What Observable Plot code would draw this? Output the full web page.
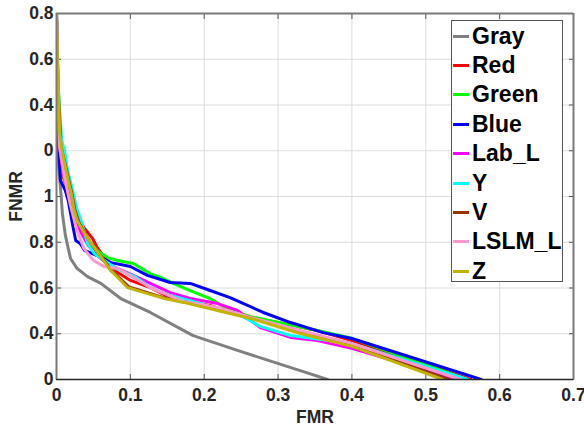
<!DOCTYPE html>
<html>
<head>
<meta charset="utf-8">
<script src="https://cdn.jsdelivr.net/npm/d3@7"></script>
<script src="https://cdn.jsdelivr.net/npm/@observablehq/plot@0.6"></script>
<style>
  html, body { margin: 0; padding: 0; background: #fff; }
  #wrap { position: relative; width: 584px; height: 428px; font-family: "Liberation Sans", Arial, sans-serif; }
  #chart svg text { font-size: 17.5px !important; font-weight: bold !important; font-family: "Liberation Sans", Arial, sans-serif !important; }
  #legend { position: absolute; left: 451px; top: 20px; width: 112px; height: 262px; border: 1px solid #555; background: #fff; box-sizing: border-box; }
  .item { position: absolute; left: 0; height: 29px; display: flex; align-items: center; }
  .sw { width: 16px; height: 3px; margin-left: 1px; margin-right: 3px; }
  .lb { font-weight: bold; font-size: 23px; color: #000; line-height: 1; }
</style>
</head>
<body>
<div id="wrap"><div id="chart"></div><div id="legend"></div></div>
<script>
const seriesNames = ["Gray","Red","Green","Blue","Lab_L","Y","V","LSLM_L","Z"];
const seriesColors = ["#808080","#ff0000","#00ff00","#0000ff","#ff00ff","#00ffff","#993300","#ff99cc","#c2b500"];

const grayFMR  = [0,0.0007,0.0014,0.0054,0.008,0.012,0.019,0.028,0.042,0.06,0.087,0.127,0.185,0.245,0.33,0.367];
const grayFNMR = [1.6,1.22,0.988,0.839,0.726,0.63,0.529,0.485,0.45,0.42,0.354,0.293,0.192,0.127,0.039,0];

const redFMR  = [0,0.002,0.004,0.008,0.018,0.024,0.031,0.038,0.049,0.055,0.065,0.083,0.1,0.127,0.154,0.181,0.208,0.235,0.263,0.307,0.353,0.4,0.561];
const redFNMR = [1.6,1.2,1.0,0.892,0.813,0.739,0.695,0.66,0.616,0.577,0.533,0.468,0.433,0.402,0.358,0.337,0.324,0.293,0.271,0.245,0.214,0.17,0];

const greenFMR  = [0,0.001,0.003,0.008,0.015,0.019,0.024,0.028,0.034,0.042,0.055,0.069,0.083,0.104,0.127,0.141,0.158,0.181,0.208,0.235,0.263,0.307,0.353,0.4,0.556];
const greenFNMR = [1.6,1.25,1.05,0.914,0.813,0.783,0.708,0.686,0.651,0.616,0.564,0.533,0.52,0.507,0.463,0.446,0.42,0.389,0.354,0.302,0.275,0.245,0.214,0.18,0];

const blueFMR  = [0,0.0014,0.003,0.0054,0.012,0.016,0.022,0.026,0.032,0.038,0.055,0.074,0.1,0.123,0.154,0.181,0.208,0.235,0.28,0.317,0.361,0.4,0.575];
const blueFNMR = [1.6,1.22,1.0,0.87,0.826,0.78,0.673,0.608,0.595,0.564,0.542,0.511,0.494,0.455,0.424,0.42,0.389,0.358,0.293,0.249,0.205,0.179,0];

const labFMR  = [0,0.002,0.004,0.009,0.022,0.032,0.043,0.055,0.069,0.083,0.104,0.127,0.154,0.181,0.218,0.245,0.276,0.317,0.353,0.4,0.542];
const labFNMR = [1.6,1.2,1.02,0.9,0.74,0.65,0.586,0.542,0.507,0.485,0.455,0.42,0.38,0.354,0.332,0.302,0.227,0.184,0.17,0.136,0];

const yFMR  = [0,0.002,0.007,0.011,0.015,0.022,0.027,0.034,0.042,0.051,0.065,0.083,0.106,0.127,0.154,0.181,0.218,0.245,0.276,0.317,0.4,0.557];
const yFNMR = [1.6,1.3,1.045,1.0,0.914,0.826,0.752,0.686,0.595,0.551,0.52,0.481,0.45,0.402,0.367,0.345,0.31,0.289,0.232,0.192,0.157,0];

const vFMR  = [0,0.001,0.003,0.006,0.011,0.016,0.021,0.025,0.03,0.039,0.05,0.062,0.074,0.085,0.098,0.12,0.147,0.173,0.219,0.264,0.331,0.4,0.532];
const vFNMR = [1.6,1.44,1.22,1.02,0.95,0.88,0.81,0.74,0.69,0.635,0.58,0.53,0.48,0.445,0.405,0.383,0.356,0.34,0.305,0.27,0.205,0.148,0];

const pinkFMR  = [0,0.002,0.004,0.01,0.019,0.027,0.037,0.05,0.064,0.083,0.104,0.127,0.172,0.218,0.263,0.33,0.4,0.547];
const pinkFNMR = [1.6,1.25,1.02,0.9,0.76,0.66,0.573,0.52,0.494,0.485,0.446,0.402,0.341,0.315,0.271,0.214,0.157,0];

const zFMR  = [0,0.001,0.003,0.004,0.007,0.011,0.015,0.02,0.024,0.028,0.038,0.049,0.061,0.073,0.083,0.096,0.119,0.146,0.172,0.218,0.263,0.33,0.4,0.523];
const zFNMR = [1.6,1.44,1.22,1.09,1.01,0.944,0.883,0.813,0.739,0.695,0.638,0.586,0.533,0.477,0.446,0.402,0.38,0.354,0.337,0.302,0.267,0.201,0.145,0];

const xTicks = [0,0.1,0.2,0.3,0.4,0.5,0.6,0.7];
const xTickLabels = ["0","0.1","0.2","0.3","0.4","0.5","0.6","0.7"];
const yTicks = [0,0.2,0.4,0.6,0.8,1.0,1.2,1.4,1.6];
const yTickLabels = ["0","0.4","0.6","0.8","1","0","0.4","0.6","0.8"];

const seriesX = [grayFMR, redFMR, greenFMR, blueFMR, labFMR, yFMR, vFMR, pinkFMR, zFMR];
const seriesY = [grayFNMR, redFNMR, greenFNMR, blueFNMR, labFNMR, yFNMR, vFNMR, pinkFNMR, zFNMR];

const rows = [];
seriesNames.forEach((name, s) => {
  seriesX[s].forEach((x, i) => rows.push({series: name, order: s, fmr: x, fnmr: seriesY[s][i]}));
});

const xFmt = d => xTickLabels[xTicks.findIndex(t => Math.abs(t - d) < 1e-9)];
const yFmt = d => yTickLabels[yTicks.findIndex(t => Math.abs(t - d) < 1e-9)];

const chart = Plot.plot({
  width: 584,
  height: 428,
  marginLeft: 56,
  marginRight: 11,
  marginTop: 13,
  marginBottom: 49,
  style: {fontFamily: "'Liberation Sans', Arial, sans-serif", fontSize: "17px", fontWeight: "bold", color: "#262626", background: "#fff"},
  x: {domain: [0, 0.7]},
  y: {domain: [0, 1.6]},
  color: {domain: seriesNames, range: seriesColors},
  marks: [
    Plot.gridX(xTicks, {stroke: "#dcdcdc", strokeOpacity: 1, strokeWidth: 1}),
    Plot.gridY(yTicks, {stroke: "#dcdcdc", strokeOpacity: 1, strokeWidth: 1}),
    Plot.axisX({ticks: xTicks, tickFormat: xFmt, tickSize: -5, tickPadding: 14, label: "FMR", labelAnchor: "center", labelOffset: 43, labelArrow: "none", stroke: "#555"}),
    Plot.axisX({anchor: "top", ticks: xTicks, tickFormat: () => "", tickSize: -5, label: null, stroke: "#555"}),
    Plot.axisY({ticks: yTicks, tickFormat: yFmt, tickSize: -5, tickPadding: 8, label: "FNMR", labelAnchor: "center", labelOffset: 47, labelArrow: "none", stroke: "#555"}),
    Plot.axisY({anchor: "right", ticks: yTicks, tickFormat: () => "", tickSize: -5, label: null, stroke: "#555"}),
    Plot.line(rows, {x: "fmr", y: "fnmr", z: "series", stroke: "series", strokeWidth: 3, strokeLinejoin: "round", clip: true}),
    Plot.ruleY([0], {stroke: "#262626", strokeWidth: 1.5}),
    Plot.ruleX([0], {stroke: "#7a7a7a", strokeWidth: 2}),
    Plot.ruleY([1.6], {stroke: "#7a7a7a", strokeWidth: 2}),
    Plot.ruleX([0.7], {stroke: "#7a7a7a", strokeWidth: 2})
  ]
});
document.getElementById("chart").appendChild(chart);

const legend = document.getElementById("legend");
seriesNames.forEach((name, i) => {
  const item = document.createElement("div");
  item.className = "item";
  item.style.top = (0.5 + i * 29.4) + "px";
  const sw = document.createElement("div");
  sw.className = "sw";
  sw.style.background = seriesColors[i];
  const lb = document.createElement("span");
  lb.className = "lb";
  lb.textContent = name;
  item.appendChild(sw);
  item.appendChild(lb);
  legend.appendChild(item);
});
</script>
</body>
</html>
